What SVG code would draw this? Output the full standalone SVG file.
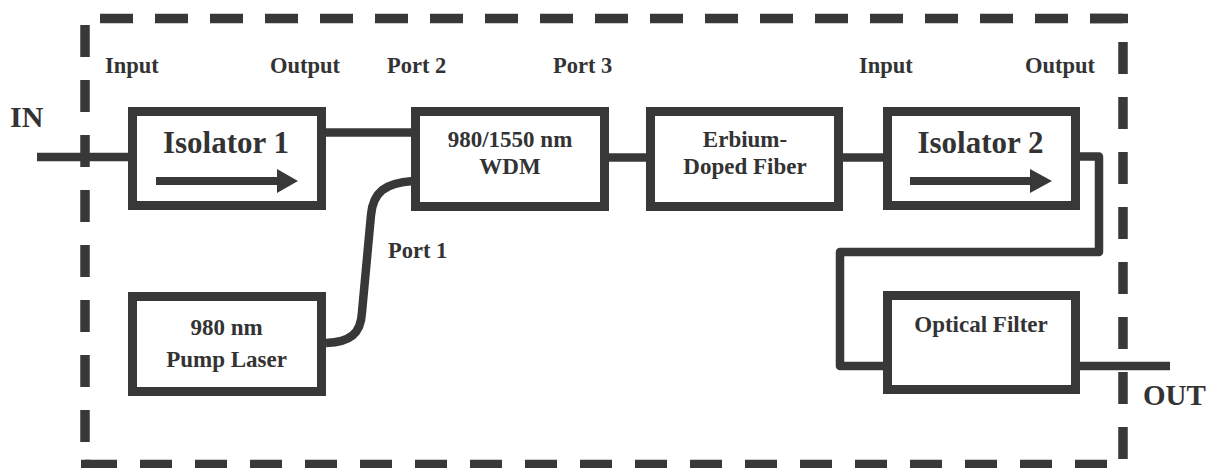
<svg xmlns="http://www.w3.org/2000/svg" width="1209" height="468" viewBox="0 0 1209 468">
<style>
.box{fill:#fff;stroke:#383838;stroke-width:9}
.wire{fill:none;stroke:#383838;stroke-width:8.5;stroke-linejoin:round}
.dash{fill:none;stroke:#383838;stroke-width:9.5}
.t{font-family:"Liberation Serif","Times New Roman",serif;font-weight:bold;fill:#333}
.big{font-size:30px}
.iso{font-size:31px}
.mid{font-size:23px}
.lab{font-size:22.5px}
.shaft{stroke:#383838;stroke-width:8}
.head{fill:#383838}
</style>
<rect width="1209" height="468" fill="#fff"/>
<g id="boundary">
<path class="dash" d="M100 18.5 H1123" stroke-dasharray="33 22"/>
<path class="dash" d="M1090 18.5 H1128"/>
<path class="dash" d="M85 25 V442" stroke-dasharray="32 23"/>
<path class="dash" d="M1123 42 V459" stroke-dasharray="32 23"/>
<path class="dash" d="M85 464.5 H1108" stroke-dasharray="32 23"/>
<path class="dash" d="M81 464.5 H90"/>
</g>
<g id="connectors">
<path class="wire" d="M37 157 H128"/>
<path class="wire" d="M326 132.5 H411"/>
<path class="wire" d="M609 157.5 H646"/>
<path class="wire" d="M843 157.5 H883"/>
<path class="wire" d="M1080 156.5 H1099 V252 H840 V366 H883"/>
<path class="wire" d="M1080 366 H1170"/>
<path class="wire" d="M326 343 C350 342 361 334 362 312 L371 215 C373 192 385 183 413 181"/>
</g>
<g id="isolator1">
<rect class="box" x="132.5" y="111.5" width="189" height="94"/>
<text class="t iso" x="226" y="153" text-anchor="middle">Isolator 1</text>
<line class="shaft" x1="156" y1="181" x2="279" y2="181"/>
<polygon class="head" points="277,169 298,181 277,193"/>
</g>
<g id="wdm">
<rect class="box" x="415.5" y="111.5" width="189" height="95"/>
<text class="t mid" x="510" y="147" text-anchor="middle">980/1550 nm</text>
<text class="t mid" x="510" y="174" text-anchor="middle">WDM</text>
</g>
<g id="edf">
<rect class="box" x="650.5" y="111.5" width="188" height="95"/>
<text class="t mid" x="745" y="147" text-anchor="middle">Erbium-</text>
<text class="t mid" x="745" y="174" text-anchor="middle">Doped Fiber</text>
</g>
<g id="isolator2">
<rect class="box" x="887.5" y="111.5" width="188" height="94"/>
<text class="t iso" x="980.5" y="153" text-anchor="middle">Isolator 2</text>
<line class="shaft" x1="910" y1="181" x2="1032" y2="181"/>
<polygon class="head" points="1030,169 1052,181 1030,193"/>
</g>
<g id="pump">
<rect class="box" x="132.5" y="296.5" width="189" height="95"/>
<text class="t mid" x="226.5" y="335" text-anchor="middle">980 nm</text>
<text class="t mid" x="226.5" y="367" text-anchor="middle">Pump Laser</text>
</g>
<g id="filter">
<rect class="box" x="887.5" y="295.5" width="188" height="94"/>
<text class="t mid" x="981" y="332" text-anchor="middle">Optical Filter</text>
</g>
<g id="labels">
<text class="t big" x="10" y="127">IN</text>
<text class="t big" x="1143" y="405" style="font-size:29px">OUT</text>
<text class="t lab" x="105" y="73">Input</text>
<text class="t lab" x="270" y="73">Output</text>
<text class="t lab" x="387" y="73">Port 2</text>
<text class="t lab" x="553" y="73">Port 3</text>
<text class="t lab" x="859" y="73">Input</text>
<text class="t lab" x="1025" y="73">Output</text>
<text class="t lab" x="388" y="258">Port 1</text>
</g>
</svg>
